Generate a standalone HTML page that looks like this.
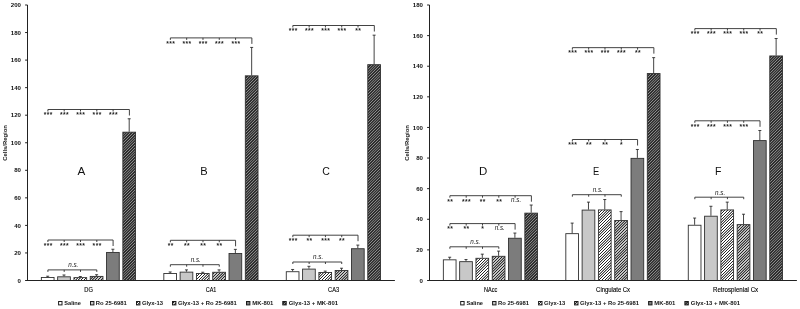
<!DOCTYPE html>
<html lang="en"><head><meta charset="utf-8"><title>Cells/Region</title>
<style>html,body{margin:0;padding:0;background:#fff}svg{display:block}text{font-family:"Liberation Sans", sans-serif}</style>
</head><body>
<svg width="800" height="309" viewBox="0 0 800 309">
<defs>
<linearGradient id="h1" gradientUnits="userSpaceOnUse" x1="0.000" y1="0" x2="1.4000" y2="1.4000" spreadMethod="repeat"><stop offset="0" stop-color="#262626"/><stop offset="0.120" stop-color="#262626"/><stop offset="0.280" stop-color="#ffffff"/><stop offset="0.720" stop-color="#ffffff"/><stop offset="0.880" stop-color="#262626"/><stop offset="1" stop-color="#262626"/></linearGradient>
<linearGradient id="h2" gradientUnits="userSpaceOnUse" x1="0.000" y1="0" x2="1.4000" y2="1.4000" spreadMethod="repeat"><stop offset="0" stop-color="#262626"/><stop offset="0.120" stop-color="#262626"/><stop offset="0.280" stop-color="#c4c4c4"/><stop offset="0.720" stop-color="#c4c4c4"/><stop offset="0.880" stop-color="#262626"/><stop offset="1" stop-color="#262626"/></linearGradient>
<linearGradient id="h3" gradientUnits="userSpaceOnUse" x1="0.000" y1="0" x2="1.4000" y2="1.4000" spreadMethod="repeat"><stop offset="0" stop-color="#8c8c8c"/><stop offset="0.095" stop-color="#8c8c8c"/><stop offset="0.255" stop-color="#2e2e2e"/><stop offset="0.745" stop-color="#2e2e2e"/><stop offset="0.905" stop-color="#8c8c8c"/><stop offset="1" stop-color="#8c8c8c"/></linearGradient>
</defs>
<rect width="800" height="309" fill="#ffffff"/>
<rect x="41.35" y="277.51" width="12.70" height="2.99" fill="#ffffff" stroke="#303030" stroke-width="0.9"/>
<path d="M47.70 277.06V276.23M46.20 276.23H49.20" stroke="#222222" stroke-width="0.85" fill="none"/>
<rect x="57.65" y="276.82" width="12.70" height="3.68" fill="#c8c8c8" stroke="#303030" stroke-width="0.9"/>
<path d="M64.00 276.37V274.99M62.50 274.99H65.50" stroke="#222222" stroke-width="0.85" fill="none"/>
<rect x="73.95" y="277.64" width="12.70" height="2.86" fill="url(#h1)" stroke="#303030" stroke-width="0.9"/>
<path d="M80.30 277.19V276.51M78.80 276.51H81.80" stroke="#222222" stroke-width="0.85" fill="none"/>
<rect x="90.25" y="276.40" width="12.70" height="4.10" fill="url(#h2)" stroke="#303030" stroke-width="0.9"/>
<path d="M96.60 275.95V274.71M95.10 274.71H98.10" stroke="#222222" stroke-width="0.85" fill="none"/>
<rect x="106.55" y="252.44" width="12.70" height="28.06" fill="#7c7c7c" stroke="#303030" stroke-width="0.9"/>
<path d="M112.90 251.99V249.23M111.40 249.23H114.40" stroke="#222222" stroke-width="0.85" fill="none"/>
<rect x="122.85" y="132.18" width="12.70" height="148.32" fill="url(#h3)" stroke="#303030" stroke-width="0.9"/>
<path d="M129.20 131.73V118.78M127.70 118.78H130.70" stroke="#222222" stroke-width="0.85" fill="none"/>
<rect x="163.82" y="273.51" width="12.70" height="6.99" fill="#ffffff" stroke="#303030" stroke-width="0.9"/>
<path d="M170.17 273.06V271.96M168.67 271.96H171.67" stroke="#222222" stroke-width="0.85" fill="none"/>
<rect x="180.12" y="272.13" width="12.70" height="8.37" fill="#c8c8c8" stroke="#303030" stroke-width="0.9"/>
<path d="M186.47 271.68V269.89M184.97 269.89H187.97" stroke="#222222" stroke-width="0.85" fill="none"/>
<rect x="196.42" y="273.51" width="12.70" height="6.99" fill="url(#h1)" stroke="#303030" stroke-width="0.9"/>
<path d="M202.77 273.06V272.24M201.27 272.24H204.27" stroke="#222222" stroke-width="0.85" fill="none"/>
<rect x="212.72" y="272.27" width="12.70" height="8.23" fill="url(#h2)" stroke="#303030" stroke-width="0.9"/>
<path d="M219.07 271.82V269.89M217.57 269.89H220.57" stroke="#222222" stroke-width="0.85" fill="none"/>
<rect x="229.02" y="253.54" width="12.70" height="26.96" fill="#7c7c7c" stroke="#303030" stroke-width="0.9"/>
<path d="M235.37 253.09V249.37M233.87 249.37H236.87" stroke="#222222" stroke-width="0.85" fill="none"/>
<rect x="245.32" y="75.84" width="12.70" height="204.66" fill="url(#h3)" stroke="#303030" stroke-width="0.9"/>
<path d="M251.67 75.39V47.43M250.17 47.43H253.17" stroke="#222222" stroke-width="0.85" fill="none"/>
<rect x="286.28" y="271.72" width="12.70" height="8.78" fill="#ffffff" stroke="#303030" stroke-width="0.9"/>
<path d="M292.63 271.27V269.48M291.13 269.48H294.13" stroke="#222222" stroke-width="0.85" fill="none"/>
<rect x="302.58" y="269.10" width="12.70" height="11.40" fill="#c8c8c8" stroke="#303030" stroke-width="0.9"/>
<path d="M308.93 268.65V266.31M307.43 266.31H310.43" stroke="#222222" stroke-width="0.85" fill="none"/>
<rect x="318.88" y="272.55" width="12.70" height="7.95" fill="url(#h1)" stroke="#303030" stroke-width="0.9"/>
<path d="M325.23 272.10V271.13M323.73 271.13H326.73" stroke="#222222" stroke-width="0.85" fill="none"/>
<rect x="335.18" y="270.48" width="12.70" height="10.02" fill="url(#h2)" stroke="#303030" stroke-width="0.9"/>
<path d="M341.53 270.03V268.24M340.03 268.24H343.03" stroke="#222222" stroke-width="0.85" fill="none"/>
<rect x="351.48" y="248.72" width="12.70" height="31.78" fill="#7c7c7c" stroke="#303030" stroke-width="0.9"/>
<path d="M357.83 248.27V245.10M356.33 245.10H359.33" stroke="#222222" stroke-width="0.85" fill="none"/>
<rect x="367.78" y="64.68" width="12.70" height="215.82" fill="url(#h3)" stroke="#303030" stroke-width="0.9"/>
<path d="M374.13 64.23V35.17M372.63 35.17H375.63" stroke="#222222" stroke-width="0.85" fill="none"/>
<path d="M27.50 5.00V281.00M27.00 280.50H394.90" stroke="#222222" stroke-width="1" fill="none"/>
<path d="M25.10 280.50H27.50" stroke="#222222" stroke-width="1"/>
<text x="21.00" y="282.65" font-size="6.1" font-weight="bold" text-anchor="end" fill="#111">0</text>
<path d="M25.10 252.95H27.50" stroke="#222222" stroke-width="1"/>
<text x="21.00" y="255.10" font-size="6.1" font-weight="bold" text-anchor="end" fill="#111">20</text>
<path d="M25.10 225.40H27.50" stroke="#222222" stroke-width="1"/>
<text x="21.00" y="227.55" font-size="6.1" font-weight="bold" text-anchor="end" fill="#111">40</text>
<path d="M25.10 197.85H27.50" stroke="#222222" stroke-width="1"/>
<text x="21.00" y="200.00" font-size="6.1" font-weight="bold" text-anchor="end" fill="#111">60</text>
<path d="M25.10 170.30H27.50" stroke="#222222" stroke-width="1"/>
<text x="21.00" y="172.45" font-size="6.1" font-weight="bold" text-anchor="end" fill="#111">80</text>
<path d="M25.10 142.75H27.50" stroke="#222222" stroke-width="1"/>
<text x="21.00" y="144.90" font-size="6.1" font-weight="bold" text-anchor="end" fill="#111">100</text>
<path d="M25.10 115.20H27.50" stroke="#222222" stroke-width="1"/>
<text x="21.00" y="117.35" font-size="6.1" font-weight="bold" text-anchor="end" fill="#111">120</text>
<path d="M25.10 87.65H27.50" stroke="#222222" stroke-width="1"/>
<text x="21.00" y="89.80" font-size="6.1" font-weight="bold" text-anchor="end" fill="#111">140</text>
<path d="M25.10 60.10H27.50" stroke="#222222" stroke-width="1"/>
<text x="21.00" y="62.25" font-size="6.1" font-weight="bold" text-anchor="end" fill="#111">160</text>
<path d="M25.10 32.55H27.50" stroke="#222222" stroke-width="1"/>
<text x="21.00" y="34.70" font-size="6.1" font-weight="bold" text-anchor="end" fill="#111">180</text>
<path d="M25.10 5.00H27.50" stroke="#222222" stroke-width="1"/>
<text x="21.00" y="7.15" font-size="6.1" font-weight="bold" text-anchor="end" fill="#111">200</text>
<text transform="translate(6.60 142.9) rotate(-90)" font-size="5.7" font-weight="bold" text-anchor="middle" textLength="35.5" lengthAdjust="spacingAndGlyphs" fill="#222">Cells/Region</text>
<text x="88.63" y="291.90" font-size="6.3" text-anchor="middle" textLength="8.6" lengthAdjust="spacingAndGlyphs" fill="#000" stroke="#000" stroke-width="0.12">DG</text>
<text x="211.10" y="291.90" font-size="6.3" text-anchor="middle" textLength="10.6" lengthAdjust="spacingAndGlyphs" fill="#000" stroke="#000" stroke-width="0.12">CA1</text>
<text x="333.57" y="291.90" font-size="6.3" text-anchor="middle" textLength="11.0" lengthAdjust="spacingAndGlyphs" fill="#000" stroke="#000" stroke-width="0.12">CA3</text>
<text transform="translate(81.50 174.8) scale(1.00 1)" font-size="11.7" text-anchor="middle" fill="#111">A</text>
<text transform="translate(204.00 174.8) scale(0.95 1)" font-size="11.7" text-anchor="middle" fill="#111">B</text>
<text transform="translate(326.00 174.8) scale(0.90 1)" font-size="11.7" text-anchor="middle" fill="#111">C</text>
<rect x="58.60" y="301.50" width="3.4" height="3.4" fill="#ffffff" stroke="#1c1c1c" stroke-width="1"/>
<text x="64.30" y="304.90" font-size="6.1" font-weight="bold" textLength="16.6" lengthAdjust="spacingAndGlyphs" fill="#161616">Saline</text>
<rect x="90.50" y="301.50" width="3.4" height="3.4" fill="#c8c8c8" stroke="#1c1c1c" stroke-width="1"/>
<text x="95.80" y="304.90" font-size="6.1" font-weight="bold" textLength="31.1" lengthAdjust="spacingAndGlyphs" fill="#161616">Ro 25-6981</text>
<rect x="136.50" y="301.50" width="3.4" height="3.4" fill="url(#h1)" stroke="#1c1c1c" stroke-width="1"/>
<text x="141.90" y="304.90" font-size="6.1" font-weight="bold" textLength="21.2" lengthAdjust="spacingAndGlyphs" fill="#161616">Glyx-13</text>
<rect x="172.50" y="301.50" width="3.4" height="3.4" fill="url(#h2)" stroke="#1c1c1c" stroke-width="1"/>
<text x="177.90" y="304.90" font-size="6.1" font-weight="bold" textLength="59.0" lengthAdjust="spacingAndGlyphs" fill="#161616">Glyx-13 + Ro 25-6981</text>
<rect x="246.50" y="301.50" width="3.4" height="3.4" fill="#7c7c7c" stroke="#1c1c1c" stroke-width="1"/>
<text x="252.20" y="304.90" font-size="6.1" font-weight="bold" textLength="21.1" lengthAdjust="spacingAndGlyphs" fill="#161616">MK-801</text>
<rect x="282.80" y="301.50" width="3.4" height="3.4" fill="url(#h3)" stroke="#1c1c1c" stroke-width="1"/>
<text x="288.70" y="304.90" font-size="6.1" font-weight="bold" textLength="49.3" lengthAdjust="spacingAndGlyphs" fill="#161616">Glyx-13 + MK-801</text>
<rect x="443.35" y="259.83" width="12.70" height="20.67" fill="#ffffff" stroke="#303030" stroke-width="0.9"/>
<path d="M449.70 259.38V257.24M448.20 257.24H451.20" stroke="#222222" stroke-width="0.85" fill="none"/>
<rect x="459.65" y="261.67" width="12.70" height="18.83" fill="#c8c8c8" stroke="#303030" stroke-width="0.9"/>
<path d="M466.00 261.22V259.53M464.50 259.53H467.50" stroke="#222222" stroke-width="0.85" fill="none"/>
<rect x="475.95" y="258.30" width="12.70" height="22.20" fill="url(#h1)" stroke="#303030" stroke-width="0.9"/>
<path d="M482.30 257.85V254.17M480.80 254.17H483.80" stroke="#222222" stroke-width="0.85" fill="none"/>
<rect x="492.25" y="256.31" width="12.70" height="24.19" fill="url(#h2)" stroke="#303030" stroke-width="0.9"/>
<path d="M498.60 255.86V251.11M497.10 251.11H500.10" stroke="#222222" stroke-width="0.85" fill="none"/>
<rect x="508.55" y="238.25" width="12.70" height="42.25" fill="#7c7c7c" stroke="#303030" stroke-width="0.9"/>
<path d="M514.90 237.80V233.05M513.40 233.05H516.40" stroke="#222222" stroke-width="0.85" fill="none"/>
<rect x="524.85" y="213.15" width="12.70" height="67.35" fill="url(#h3)" stroke="#303030" stroke-width="0.9"/>
<path d="M531.20 212.70V205.04M529.70 205.04H532.70" stroke="#222222" stroke-width="0.85" fill="none"/>
<rect x="565.82" y="233.66" width="12.70" height="46.84" fill="#ffffff" stroke="#303030" stroke-width="0.9"/>
<path d="M572.17 233.21V223.10M570.67 223.10H573.67" stroke="#222222" stroke-width="0.85" fill="none"/>
<rect x="582.12" y="210.09" width="12.70" height="70.41" fill="#c8c8c8" stroke="#303030" stroke-width="0.9"/>
<path d="M588.47 209.64V202.14M586.97 202.14H589.97" stroke="#222222" stroke-width="0.85" fill="none"/>
<rect x="598.42" y="209.93" width="12.70" height="70.57" fill="url(#h1)" stroke="#303030" stroke-width="0.9"/>
<path d="M604.77 209.48V199.53M603.27 199.53H606.27" stroke="#222222" stroke-width="0.85" fill="none"/>
<rect x="614.72" y="220.49" width="12.70" height="60.01" fill="url(#h2)" stroke="#303030" stroke-width="0.9"/>
<path d="M621.07 220.04V211.62M619.57 211.62H622.57" stroke="#222222" stroke-width="0.85" fill="none"/>
<rect x="631.02" y="158.35" width="12.70" height="122.15" fill="#7c7c7c" stroke="#303030" stroke-width="0.9"/>
<path d="M637.37 157.90V149.48M635.87 149.48H638.87" stroke="#222222" stroke-width="0.85" fill="none"/>
<rect x="647.32" y="73.56" width="12.70" height="206.94" fill="url(#h3)" stroke="#303030" stroke-width="0.9"/>
<path d="M653.67 73.11V57.65M652.17 57.65H655.17" stroke="#222222" stroke-width="0.85" fill="none"/>
<rect x="688.28" y="225.24" width="12.70" height="55.26" fill="#ffffff" stroke="#303030" stroke-width="0.9"/>
<path d="M694.63 224.79V218.05M693.13 218.05H696.13" stroke="#222222" stroke-width="0.85" fill="none"/>
<rect x="704.58" y="216.21" width="12.70" height="64.29" fill="#c8c8c8" stroke="#303030" stroke-width="0.9"/>
<path d="M710.93 215.76V206.27M709.43 206.27H712.43" stroke="#222222" stroke-width="0.85" fill="none"/>
<rect x="720.88" y="209.93" width="12.70" height="70.57" fill="url(#h1)" stroke="#303030" stroke-width="0.9"/>
<path d="M727.23 209.48V202.14M725.73 202.14H728.73" stroke="#222222" stroke-width="0.85" fill="none"/>
<rect x="737.18" y="224.63" width="12.70" height="55.87" fill="url(#h2)" stroke="#303030" stroke-width="0.9"/>
<path d="M743.53 224.18V214.23M742.03 214.23H745.03" stroke="#222222" stroke-width="0.85" fill="none"/>
<rect x="753.48" y="140.60" width="12.70" height="139.90" fill="#7c7c7c" stroke="#303030" stroke-width="0.9"/>
<path d="M759.83 140.15V130.51M758.33 130.51H761.33" stroke="#222222" stroke-width="0.85" fill="none"/>
<rect x="769.78" y="55.96" width="12.70" height="224.54" fill="url(#h3)" stroke="#303030" stroke-width="0.9"/>
<path d="M776.13 55.51V38.52M774.63 38.52H777.63" stroke="#222222" stroke-width="0.85" fill="none"/>
<path d="M429.50 5.00V281.00M429.00 280.50H796.90" stroke="#222222" stroke-width="1" fill="none"/>
<path d="M427.10 280.50H429.50" stroke="#222222" stroke-width="1"/>
<text x="423.00" y="282.65" font-size="6.1" font-weight="bold" text-anchor="end" fill="#111">0</text>
<path d="M427.10 249.89H429.50" stroke="#222222" stroke-width="1"/>
<text x="423.00" y="252.04" font-size="6.1" font-weight="bold" text-anchor="end" fill="#111">20</text>
<path d="M427.10 219.28H429.50" stroke="#222222" stroke-width="1"/>
<text x="423.00" y="221.43" font-size="6.1" font-weight="bold" text-anchor="end" fill="#111">40</text>
<path d="M427.10 188.67H429.50" stroke="#222222" stroke-width="1"/>
<text x="423.00" y="190.82" font-size="6.1" font-weight="bold" text-anchor="end" fill="#111">60</text>
<path d="M427.10 158.06H429.50" stroke="#222222" stroke-width="1"/>
<text x="423.00" y="160.21" font-size="6.1" font-weight="bold" text-anchor="end" fill="#111">80</text>
<path d="M427.10 127.44H429.50" stroke="#222222" stroke-width="1"/>
<text x="423.00" y="129.59" font-size="6.1" font-weight="bold" text-anchor="end" fill="#111">100</text>
<path d="M427.10 96.83H429.50" stroke="#222222" stroke-width="1"/>
<text x="423.00" y="98.98" font-size="6.1" font-weight="bold" text-anchor="end" fill="#111">120</text>
<path d="M427.10 66.22H429.50" stroke="#222222" stroke-width="1"/>
<text x="423.00" y="68.37" font-size="6.1" font-weight="bold" text-anchor="end" fill="#111">140</text>
<path d="M427.10 35.61H429.50" stroke="#222222" stroke-width="1"/>
<text x="423.00" y="37.76" font-size="6.1" font-weight="bold" text-anchor="end" fill="#111">160</text>
<path d="M427.10 5.00H429.50" stroke="#222222" stroke-width="1"/>
<text x="423.00" y="7.15" font-size="6.1" font-weight="bold" text-anchor="end" fill="#111">180</text>
<text transform="translate(408.60 142.9) rotate(-90)" font-size="5.7" font-weight="bold" text-anchor="middle" textLength="35.5" lengthAdjust="spacingAndGlyphs" fill="#222">Cells/Region</text>
<text x="490.63" y="291.90" font-size="6.3" text-anchor="middle" textLength="13.3" lengthAdjust="spacingAndGlyphs" fill="#000" stroke="#000" stroke-width="0.12">NAcc</text>
<text x="613.10" y="291.90" font-size="6.3" text-anchor="middle" textLength="34.0" lengthAdjust="spacingAndGlyphs" fill="#000" stroke="#000" stroke-width="0.12">Cingulate Cx</text>
<text x="735.57" y="291.90" font-size="6.3" text-anchor="middle" textLength="45.2" lengthAdjust="spacingAndGlyphs" fill="#000" stroke="#000" stroke-width="0.12">Retrosplenial Cx</text>
<text transform="translate(483.20 174.8) scale(0.98 1)" font-size="11.7" text-anchor="middle" fill="#111">D</text>
<text transform="translate(596.00 174.8) scale(0.80 1)" font-size="11.7" text-anchor="middle" fill="#111">E</text>
<text transform="translate(718.20 174.8) scale(0.90 1)" font-size="11.7" text-anchor="middle" fill="#111">F</text>
<rect x="460.70" y="301.50" width="3.4" height="3.4" fill="#ffffff" stroke="#1c1c1c" stroke-width="1"/>
<text x="466.40" y="304.90" font-size="6.1" font-weight="bold" textLength="16.6" lengthAdjust="spacingAndGlyphs" fill="#161616">Saline</text>
<rect x="492.60" y="301.50" width="3.4" height="3.4" fill="#c8c8c8" stroke="#1c1c1c" stroke-width="1"/>
<text x="497.90" y="304.90" font-size="6.1" font-weight="bold" textLength="31.1" lengthAdjust="spacingAndGlyphs" fill="#161616">Ro 25-6981</text>
<rect x="538.60" y="301.50" width="3.4" height="3.4" fill="url(#h1)" stroke="#1c1c1c" stroke-width="1"/>
<text x="544.00" y="304.90" font-size="6.1" font-weight="bold" textLength="21.2" lengthAdjust="spacingAndGlyphs" fill="#161616">Glyx-13</text>
<rect x="574.60" y="301.50" width="3.4" height="3.4" fill="url(#h2)" stroke="#1c1c1c" stroke-width="1"/>
<text x="580.00" y="304.90" font-size="6.1" font-weight="bold" textLength="59.0" lengthAdjust="spacingAndGlyphs" fill="#161616">Glyx-13 + Ro 25-6981</text>
<rect x="648.60" y="301.50" width="3.4" height="3.4" fill="#7c7c7c" stroke="#1c1c1c" stroke-width="1"/>
<text x="654.30" y="304.90" font-size="6.1" font-weight="bold" textLength="21.1" lengthAdjust="spacingAndGlyphs" fill="#161616">MK-801</text>
<rect x="684.90" y="301.50" width="3.4" height="3.4" fill="url(#h3)" stroke="#1c1c1c" stroke-width="1"/>
<text x="690.80" y="304.90" font-size="6.1" font-weight="bold" textLength="49.3" lengthAdjust="spacingAndGlyphs" fill="#161616">Glyx-13 + MK-801</text>
<path d="M47.90 109.50H129.40M47.90 109.50V111.50M64.20 109.50V111.50M80.50 109.50V111.50M96.80 109.50V111.50M113.10 109.50V111.50M129.40 109.50V115.50" stroke="#2e2e2e" stroke-width="0.9" fill="none"/>
<text x="48.00" y="117.30" font-size="6.6" font-style="italic" font-weight="bold" letter-spacing="0.45" text-anchor="middle" fill="#1a1a1a">***</text>
<text x="64.30" y="117.30" font-size="6.6" font-style="italic" font-weight="bold" letter-spacing="0.45" text-anchor="middle" fill="#1a1a1a">***</text>
<text x="80.60" y="117.30" font-size="6.6" font-style="italic" font-weight="bold" letter-spacing="0.45" text-anchor="middle" fill="#1a1a1a">***</text>
<text x="96.90" y="117.30" font-size="6.6" font-style="italic" font-weight="bold" letter-spacing="0.45" text-anchor="middle" fill="#1a1a1a">***</text>
<text x="113.20" y="117.30" font-size="6.6" font-style="italic" font-weight="bold" letter-spacing="0.45" text-anchor="middle" fill="#1a1a1a">***</text>
<path d="M47.90 240.00H113.10M47.90 240.00V242.00M64.20 240.00V242.00M80.50 240.00V242.00M96.80 240.00V242.00M113.10 240.00V246.00" stroke="#2e2e2e" stroke-width="0.9" fill="none"/>
<text x="48.00" y="247.80" font-size="6.6" font-style="italic" font-weight="bold" letter-spacing="0.45" text-anchor="middle" fill="#1a1a1a">***</text>
<text x="64.30" y="247.80" font-size="6.6" font-style="italic" font-weight="bold" letter-spacing="0.45" text-anchor="middle" fill="#1a1a1a">***</text>
<text x="80.60" y="247.80" font-size="6.6" font-style="italic" font-weight="bold" letter-spacing="0.45" text-anchor="middle" fill="#1a1a1a">***</text>
<text x="96.90" y="247.80" font-size="6.6" font-style="italic" font-weight="bold" letter-spacing="0.45" text-anchor="middle" fill="#1a1a1a">***</text>
<path d="M47.90 269.90H96.80M47.90 269.90V271.90M64.20 269.90V271.90M80.50 269.90V271.90M96.80 269.90V271.90" stroke="#2e2e2e" stroke-width="0.9" fill="none"/>
<text x="73.25" y="267.30" font-size="6.3" font-style="italic" text-anchor="middle" fill="#222">n.s.</text>
<path d="M170.37 37.90H251.87M170.37 37.90V39.90M186.67 37.90V39.90M202.97 37.90V39.90M219.27 37.90V39.90M235.57 37.90V39.90M251.87 37.90V43.90" stroke="#2e2e2e" stroke-width="0.9" fill="none"/>
<text x="170.47" y="45.70" font-size="6.6" font-style="italic" font-weight="bold" letter-spacing="0.45" text-anchor="middle" fill="#1a1a1a">***</text>
<text x="186.77" y="45.70" font-size="6.6" font-style="italic" font-weight="bold" letter-spacing="0.45" text-anchor="middle" fill="#1a1a1a">***</text>
<text x="203.07" y="45.70" font-size="6.6" font-style="italic" font-weight="bold" letter-spacing="0.45" text-anchor="middle" fill="#1a1a1a">***</text>
<text x="219.37" y="45.70" font-size="6.6" font-style="italic" font-weight="bold" letter-spacing="0.45" text-anchor="middle" fill="#1a1a1a">***</text>
<text x="235.67" y="45.70" font-size="6.6" font-style="italic" font-weight="bold" letter-spacing="0.45" text-anchor="middle" fill="#1a1a1a">***</text>
<path d="M170.37 240.30H235.57M170.37 240.30V242.30M186.67 240.30V242.30M202.97 240.30V242.30M219.27 240.30V242.30M235.57 240.30V246.30" stroke="#2e2e2e" stroke-width="0.9" fill="none"/>
<text x="170.47" y="248.10" font-size="6.6" font-style="italic" font-weight="bold" letter-spacing="0.45" text-anchor="middle" fill="#1a1a1a">**</text>
<text x="186.77" y="248.10" font-size="6.6" font-style="italic" font-weight="bold" letter-spacing="0.45" text-anchor="middle" fill="#1a1a1a">**</text>
<text x="203.07" y="248.10" font-size="6.6" font-style="italic" font-weight="bold" letter-spacing="0.45" text-anchor="middle" fill="#1a1a1a">**</text>
<text x="219.37" y="248.10" font-size="6.6" font-style="italic" font-weight="bold" letter-spacing="0.45" text-anchor="middle" fill="#1a1a1a">**</text>
<path d="M170.37 264.70H219.27M170.37 264.70V266.70M186.67 264.70V266.70M202.97 264.70V266.70M219.27 264.70V266.70" stroke="#2e2e2e" stroke-width="0.9" fill="none"/>
<text x="195.72" y="262.10" font-size="6.3" font-style="italic" text-anchor="middle" fill="#222">n.s.</text>
<path d="M292.83 25.50H374.33M292.83 25.50V27.50M309.13 25.50V27.50M325.43 25.50V27.50M341.73 25.50V27.50M358.03 25.50V27.50M374.33 25.50V31.50" stroke="#2e2e2e" stroke-width="0.9" fill="none"/>
<text x="292.93" y="33.30" font-size="6.6" font-style="italic" font-weight="bold" letter-spacing="0.45" text-anchor="middle" fill="#1a1a1a">***</text>
<text x="309.23" y="33.30" font-size="6.6" font-style="italic" font-weight="bold" letter-spacing="0.45" text-anchor="middle" fill="#1a1a1a">***</text>
<text x="325.53" y="33.30" font-size="6.6" font-style="italic" font-weight="bold" letter-spacing="0.45" text-anchor="middle" fill="#1a1a1a">***</text>
<text x="341.83" y="33.30" font-size="6.6" font-style="italic" font-weight="bold" letter-spacing="0.45" text-anchor="middle" fill="#1a1a1a">***</text>
<text x="358.13" y="33.30" font-size="6.6" font-style="italic" font-weight="bold" letter-spacing="0.45" text-anchor="middle" fill="#1a1a1a">**</text>
<path d="M292.83 235.20H358.03M292.83 235.20V237.20M309.13 235.20V237.20M325.43 235.20V237.20M341.73 235.20V237.20M358.03 235.20V241.20" stroke="#2e2e2e" stroke-width="0.9" fill="none"/>
<text x="292.93" y="243.00" font-size="6.6" font-style="italic" font-weight="bold" letter-spacing="0.45" text-anchor="middle" fill="#1a1a1a">***</text>
<text x="309.23" y="243.00" font-size="6.6" font-style="italic" font-weight="bold" letter-spacing="0.45" text-anchor="middle" fill="#1a1a1a">**</text>
<text x="325.53" y="243.00" font-size="6.6" font-style="italic" font-weight="bold" letter-spacing="0.45" text-anchor="middle" fill="#1a1a1a">***</text>
<text x="341.83" y="243.00" font-size="6.6" font-style="italic" font-weight="bold" letter-spacing="0.45" text-anchor="middle" fill="#1a1a1a">**</text>
<path d="M292.83 262.00H341.73M292.83 262.00V264.00M309.13 262.00V264.00M325.43 262.00V264.00M341.73 262.00V264.00" stroke="#2e2e2e" stroke-width="0.9" fill="none"/>
<text x="318.18" y="259.40" font-size="6.3" font-style="italic" text-anchor="middle" fill="#222">n.s.</text>
<path d="M449.90 195.70H531.40M449.90 195.70V197.70M466.20 195.70V197.70M482.50 195.70V197.70M498.80 195.70V197.70M515.10 195.70V197.70M531.40 195.70V201.70" stroke="#2e2e2e" stroke-width="0.9" fill="none"/>
<text x="450.00" y="203.50" font-size="6.6" font-style="italic" font-weight="bold" letter-spacing="0.45" text-anchor="middle" fill="#1a1a1a">**</text>
<text x="466.30" y="203.50" font-size="6.6" font-style="italic" font-weight="bold" letter-spacing="0.45" text-anchor="middle" fill="#1a1a1a">***</text>
<text x="482.60" y="203.50" font-size="6.6" font-style="italic" font-weight="bold" letter-spacing="0.45" text-anchor="middle" fill="#1a1a1a">**</text>
<text x="498.90" y="203.50" font-size="6.6" font-style="italic" font-weight="bold" letter-spacing="0.45" text-anchor="middle" fill="#1a1a1a">**</text>
<text x="516.10" y="202.00" font-size="6.3" font-style="italic" text-anchor="middle" fill="#222">n.s.</text>
<path d="M449.90 223.60H515.10M449.90 223.60V225.60M466.20 223.60V225.60M482.50 223.60V225.60M498.80 223.60V225.60M515.10 223.60V229.60" stroke="#2e2e2e" stroke-width="0.9" fill="none"/>
<text x="450.00" y="231.40" font-size="6.6" font-style="italic" font-weight="bold" letter-spacing="0.45" text-anchor="middle" fill="#1a1a1a">**</text>
<text x="466.30" y="231.40" font-size="6.6" font-style="italic" font-weight="bold" letter-spacing="0.45" text-anchor="middle" fill="#1a1a1a">**</text>
<text x="482.60" y="231.40" font-size="6.6" font-style="italic" font-weight="bold" letter-spacing="0.45" text-anchor="middle" fill="#1a1a1a">*</text>
<text x="499.80" y="229.90" font-size="6.3" font-style="italic" text-anchor="middle" fill="#222">n.s.</text>
<path d="M449.90 246.80H498.80M449.90 246.80V248.80M466.20 246.80V248.80M482.50 246.80V248.80M498.80 246.80V248.80" stroke="#2e2e2e" stroke-width="0.9" fill="none"/>
<text x="475.25" y="244.20" font-size="6.3" font-style="italic" text-anchor="middle" fill="#222">n.s.</text>
<path d="M572.37 47.65H653.87M572.37 47.65V49.65M588.67 47.65V49.65M604.97 47.65V49.65M621.27 47.65V49.65M637.57 47.65V49.65M653.87 47.65V53.65" stroke="#2e2e2e" stroke-width="0.9" fill="none"/>
<text x="572.47" y="55.45" font-size="6.6" font-style="italic" font-weight="bold" letter-spacing="0.45" text-anchor="middle" fill="#1a1a1a">***</text>
<text x="588.77" y="55.45" font-size="6.6" font-style="italic" font-weight="bold" letter-spacing="0.45" text-anchor="middle" fill="#1a1a1a">***</text>
<text x="605.07" y="55.45" font-size="6.6" font-style="italic" font-weight="bold" letter-spacing="0.45" text-anchor="middle" fill="#1a1a1a">***</text>
<text x="621.37" y="55.45" font-size="6.6" font-style="italic" font-weight="bold" letter-spacing="0.45" text-anchor="middle" fill="#1a1a1a">***</text>
<text x="637.67" y="55.45" font-size="6.6" font-style="italic" font-weight="bold" letter-spacing="0.45" text-anchor="middle" fill="#1a1a1a">**</text>
<path d="M572.37 139.50H637.57M572.37 139.50V141.50M588.67 139.50V141.50M604.97 139.50V141.50M621.27 139.50V141.50M637.57 139.50V145.50" stroke="#2e2e2e" stroke-width="0.9" fill="none"/>
<text x="572.47" y="147.30" font-size="6.6" font-style="italic" font-weight="bold" letter-spacing="0.45" text-anchor="middle" fill="#1a1a1a">***</text>
<text x="588.77" y="147.30" font-size="6.6" font-style="italic" font-weight="bold" letter-spacing="0.45" text-anchor="middle" fill="#1a1a1a">**</text>
<text x="605.07" y="147.30" font-size="6.6" font-style="italic" font-weight="bold" letter-spacing="0.45" text-anchor="middle" fill="#1a1a1a">**</text>
<text x="621.37" y="147.30" font-size="6.6" font-style="italic" font-weight="bold" letter-spacing="0.45" text-anchor="middle" fill="#1a1a1a">*</text>
<path d="M572.37 194.70H621.27M572.37 194.70V196.70M588.67 194.70V196.70M604.97 194.70V196.70M621.27 194.70V196.70" stroke="#2e2e2e" stroke-width="0.9" fill="none"/>
<text x="597.72" y="192.10" font-size="6.3" font-style="italic" text-anchor="middle" fill="#222">n.s.</text>
<path d="M694.83 28.60H776.33M694.83 28.60V30.60M711.13 28.60V30.60M727.43 28.60V30.60M743.73 28.60V30.60M760.03 28.60V30.60M776.33 28.60V34.60" stroke="#2e2e2e" stroke-width="0.9" fill="none"/>
<text x="694.93" y="36.40" font-size="6.6" font-style="italic" font-weight="bold" letter-spacing="0.45" text-anchor="middle" fill="#1a1a1a">***</text>
<text x="711.23" y="36.40" font-size="6.6" font-style="italic" font-weight="bold" letter-spacing="0.45" text-anchor="middle" fill="#1a1a1a">***</text>
<text x="727.53" y="36.40" font-size="6.6" font-style="italic" font-weight="bold" letter-spacing="0.45" text-anchor="middle" fill="#1a1a1a">***</text>
<text x="743.83" y="36.40" font-size="6.6" font-style="italic" font-weight="bold" letter-spacing="0.45" text-anchor="middle" fill="#1a1a1a">***</text>
<text x="760.13" y="36.40" font-size="6.6" font-style="italic" font-weight="bold" letter-spacing="0.45" text-anchor="middle" fill="#1a1a1a">**</text>
<path d="M694.83 120.80H760.03M694.83 120.80V122.80M711.13 120.80V122.80M727.43 120.80V122.80M743.73 120.80V122.80M760.03 120.80V126.80" stroke="#2e2e2e" stroke-width="0.9" fill="none"/>
<text x="694.93" y="128.60" font-size="6.6" font-style="italic" font-weight="bold" letter-spacing="0.45" text-anchor="middle" fill="#1a1a1a">***</text>
<text x="711.23" y="128.60" font-size="6.6" font-style="italic" font-weight="bold" letter-spacing="0.45" text-anchor="middle" fill="#1a1a1a">***</text>
<text x="727.53" y="128.60" font-size="6.6" font-style="italic" font-weight="bold" letter-spacing="0.45" text-anchor="middle" fill="#1a1a1a">***</text>
<text x="743.83" y="128.60" font-size="6.6" font-style="italic" font-weight="bold" letter-spacing="0.45" text-anchor="middle" fill="#1a1a1a">***</text>
<path d="M694.83 197.20H743.73M694.83 197.20V199.20M711.13 197.20V199.20M727.43 197.20V199.20M743.73 197.20V199.20" stroke="#2e2e2e" stroke-width="0.9" fill="none"/>
<text x="720.18" y="194.60" font-size="6.3" font-style="italic" text-anchor="middle" fill="#222">n.s.</text>
</svg>
</body></html>
